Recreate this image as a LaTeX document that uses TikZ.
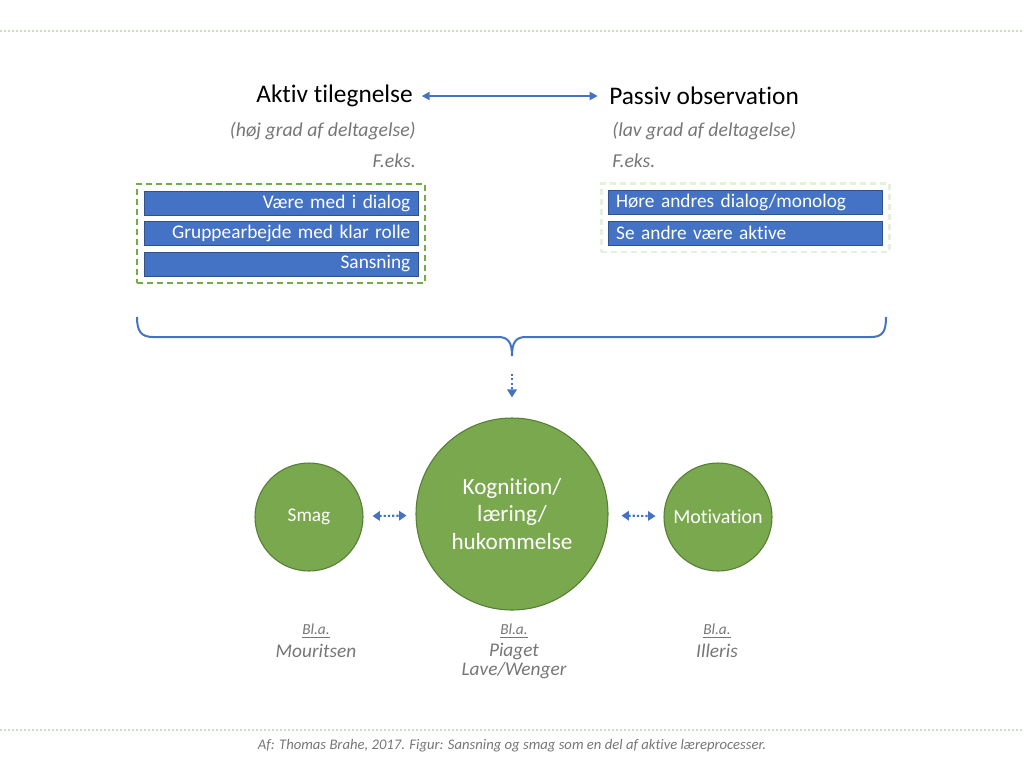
\documentclass[tikz,border=0pt]{standalone}
\usepackage{fontspec}
\setmainfont{Carlito}[Ligatures=NoCommon]
\usetikzlibrary{fit,positioning,arrows.meta,calc}
\definecolor{officeblue}{HTML}{4472C4}
\definecolor{bardark}{HTML}{2F528F}
\definecolor{leafgreen}{HTML}{70AD47}
\definecolor{circlegreen}{RGB}{122,168,78}
\definecolor{circleedge}{RGB}{86,126,52}
\definecolor{palegreen}{HTML}{E6F0DE}
\definecolor{dotgreen}{HTML}{CADFBA}
\definecolor{textgray}{RGB}{118,118,118}
\tikzset{
  heading/.style={font=\fontsize{19}{22}\selectfont, inner sep=0pt},
  note/.style={font=\fontsize{14.8}{17}\selectfont\itshape, text=textgray, inner sep=0pt},
  bar/.style={rectangle, fill=officeblue, draw=bardark, line width=0.6pt, minimum width=205.5pt, minimum height=18pt, text width=194pt, inner xsep=5.75pt, inner ysep=0pt, text=white, font=\fontsize{14.5}{16}\selectfont},
  group/.style={rectangle, dashed, line width=1.8pt, dash pattern=on 4.5pt off 3pt, inner sep=5pt},
  main/.style={circle, fill=circlegreen, draw=circleedge, line width=0.8pt, text=white, align=center, inner sep=0pt},
  source/.style={font=\fontsize{14.5}{17}\selectfont\itshape, text=textgray, inner sep=0pt},
  bla/.style={font=\fontsize{11.5}{13}\selectfont\itshape, text=textgray, inner sep=0pt},
  connect/.style={{Triangle[length=6pt,width=6pt]}-{Triangle[length=6pt,width=6pt]}, officeblue, line width=1.5pt},
  dotlink/.style={officeblue, line width=1.6pt, dash pattern=on 1.6pt off 1.6pt},
  rule/.style={dotgreen, line width=1.5pt, dash pattern=on 1.5pt off 1.5pt}
}
\begin{document}
\begin{tikzpicture}[x=0.75pt, y=-0.75pt]
  \useasboundingbox (0,0) rectangle (1024,768);
  \draw[rule] (0,31) -- (1024,31);
  \draw[rule] (0,730) -- (1024,730);

  % headings
  \node[heading, anchor=east] (Aktiv) at (413,96) {Aktiv tilegnelse};
  \node[heading, anchor=west] (Passiv) at (609,96) {Passiv observation};
  \draw[connect, shorten <=6.5pt, shorten >=8.5pt] (Aktiv) -- (Passiv);
  \node[note, anchor=east] (HighPart) at (416,131) {(høj grad af deltagelse)};
  \node[note, anchor=west] (LowPart) at (612,131) {(lav grad af deltagelse)};
  \node[note, anchor=east] (ExLeft) at (416,161) {F.eks.};
  \node[note, anchor=west] (ExRight) at (612,161) {F.eks.};

  % example bars
  \node[bar, align=right] (A1) at (281,203) {Være med i dialog};
  \node[bar, align=right] (A2) at (281,233.5) {Gruppearbejde med klar rolle};
  \node[bar, align=right] (A3) at (281,264) {Sansning};
  \node[bar, align=left] (P1) at (745.5,202.5) {Høre andres dialog/monolog};
  \node[bar, align=left] (P2) at (745.5,233) {Se andre være aktive};
  \node[group, draw=leafgreen, fit=(A1) (A3)] (ActiveBox) {};
  \node[group, draw=palegreen, fit=(P1) (P2)] (PassiveBox) {};

  % the brace
  \coordinate (BraceTip) at (512,356);
  \draw[officeblue, line width=1.5pt] (137,317) .. controls (137,331) and (141,337) .. (153,337)
    -- (498,337) .. controls (508,337) and (512,342) .. (BraceTip)
    .. controls (512,342) and (516,337) .. (526,337)
    -- (871,337) .. controls (883,337) and (886,331) .. (886,317);

  % circles
  \node[main, minimum size=144pt, font=\fontsize{17.4}{20.5}\selectfont] (Kog) at (512,514) {Kognition/\\læring/\\hukommelse};
  \node[main, minimum size=81pt, font=\fontsize{14.5}{17}\selectfont] (Smag) at (309,517) {Smag};
  \node[main, minimum size=81pt, font=\fontsize{15}{17}\selectfont] (Motiv) at (718,517) {Motivation};

  \draw[dotlink, -{Triangle[length=6pt,width=7pt]}, shorten <=13.5pt, shorten >=15pt] (BraceTip) -- (Kog);
  \draw[dotlink, {Triangle[length=5.5pt,width=7pt]}-{Triangle[length=5.5pt,width=7pt]}, shorten <=6.75pt, shorten >=6.75pt] (Smag) -- (Kog);
  \draw[dotlink, {Triangle[length=5.5pt,width=7pt]}-{Triangle[length=5.5pt,width=7pt]}, shorten <=9.75pt, shorten >=6pt] (Kog) -- (Motiv);

  % references
  \node[bla] (SmagBla) at (316,631) {\underline{Bl.a.}};
  \node[source] (SmagRef) at (316,651) {Mouritsen};
  \node[bla] (KogBla) at (514,631) {\underline{Bl.a.}};
  \node[source] (KogRef1) at (514,651) {Piaget};
  \node[source] (KogRef2) at (514,671) {Lave/Wenger};
  \node[bla] (MotivBla) at (717,631) {\underline{Bl.a.}};
  \node[source] (MotivRef) at (717,651) {Illeris};

  \node[font=\fontsize{11}{13}\selectfont\itshape, text=textgray, inner sep=0pt] (Caption) at (512,746)
    {Af: Thomas Brahe, 2017. Figur: Sansning og smag som en del af aktive læreprocesser.};
\end{tikzpicture}
\end{document}
